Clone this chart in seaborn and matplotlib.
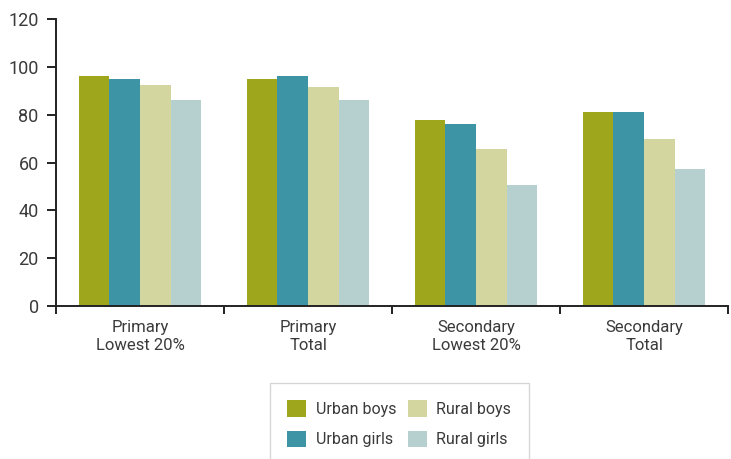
import matplotlib
matplotlib.use("Agg")
import matplotlib.pyplot as plt
import numpy as np
import pandas as pd
import seaborn as sns
from matplotlib.patches import Patch

categories = ["Primary\nLowest 20%", "Primary\nTotal", "Secondary\nLowest 20%", "Secondary\nTotal"]
groups = ["Urban boys", "Urban girls", "Rural boys", "Rural girls"]
urban_boys = [96, 95, 78, 81]
urban_girls = [95, 96, 76, 81]
rural_boys = [92.5, 91.5, 65.5, 70]
rural_girls = [86, 86, 50.5, 57.5]
colors = ["#9EA61B", "#3C94A4", "#D3D69E", "#B6D0D0"]
yticks = [0, 20, 40, 60, 80, 100, 120]

df = pd.DataFrame({
    "category": categories * 4,
    "group": np.repeat(groups, 4),
    "value": urban_boys + urban_girls + rural_boys + rural_girls,
})

sns.set_style("white")
plt.rcParams["font.family"] = ["Roboto", "DejaVu Sans"]
text_color = "#3a3a3a"

fig = plt.figure(figsize=(7.31, 4.59), dpi=100)
ax = fig.add_axes([0.0766, 0.333, 0.9194, 0.6256])

sns.barplot(data=df, x="category", y="value", hue="group", hue_order=groups,
            palette=colors, width=0.73, gap=0, saturation=1, errorbar=None,
            linewidth=0, legend=False, ax=ax)

ax.set_xlim(-0.5, 3.5)
ax.set_ylim(0, 120)
ax.set_yticks(yticks)
ax.set_xlabel("")
ax.set_ylabel("")
for side in ["top", "right"]:
    ax.spines[side].set_visible(False)
for side in ["left", "bottom"]:
    ax.spines[side].set_color("#222222")
    ax.spines[side].set_linewidth(1.4)

ax.tick_params(axis="y", length=6.5, width=1.4, color="#222222", pad=6,
               labelsize=13, labelcolor=text_color, left=True)
ax.set_xticks(range(len(categories)))
ax.set_xticklabels(categories, linespacing=1.25)
ax.tick_params(axis="x", which="major", length=0, pad=10, labelsize=12, labelcolor=text_color)
ax.set_xticks(np.arange(-0.5, 4, 1), minor=True)
ax.tick_params(axis="x", which="minor", length=6, width=1.4, color="#222222", bottom=True)

handles = [Patch(facecolor=c, edgecolor="none", label=g) for c, g in zip(colors, groups)]
leg = fig.legend(handles=handles, loc="upper left", bbox_to_anchor=(0.369, 0.166),
                 ncol=2, frameon=True, fontsize=11.5, handlelength=1.2, handleheight=1.2,
                 handletextpad=0.6, columnspacing=0.7, labelspacing=0.85,
                 borderpad=1.1, borderaxespad=0, fancybox=False, labelcolor=text_color)
leg.get_frame().set_edgecolor("#cccccc")
leg.get_frame().set_linewidth(1.0)

fig.savefig("out.png", dpi=100)
